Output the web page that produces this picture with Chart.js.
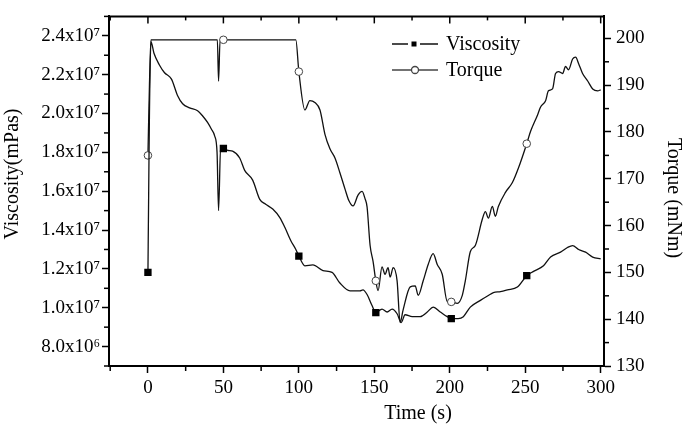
<!DOCTYPE html>
<html>
<head>
<meta charset="utf-8">
<script src="https://cdn.jsdelivr.net/npm/chart.js@4.4.1/dist/chart.umd.min.js"></script>
<style>
  html, body { margin: 0; padding: 0; background: #fff; }
  #wrap { width: 685px; height: 429px; position: relative; }
</style>
</head>
<body>
<div id="wrap"><canvas id="chart"></canvas></div>
<script>
// Viscosity (mPas, left axis) vs time (s)
const viscTime = [0, 0.5, 1, 2, 4, 7.6, 11, 15.6, 19.6, 23, 27.6, 32.9, 36, 39.5, 42, 44.2, 45.8, 46.8, 48.2,
  50, 53, 56.1, 60.8, 64.1, 69.4, 74.1, 78, 82.7, 87.4, 90.7, 94.7, 98, 100, 104, 109.3, 116, 122, 127.2,
  133.9, 140.5, 142.5, 145.2, 148.4, 151, 155.1, 158.5, 161.8, 165.1, 167.8, 170.4, 175.1, 180.4, 185.1,
  189, 193.7, 198.3, 201, 205.6, 209, 213.6, 220.3, 225.6, 228.9, 233.6, 238.2, 244.8, 251, 255.5, 262.1,
  266.8, 273.4, 278, 281.4, 285.4, 290, 294.7, 300];
const viscValues = [1.182, 1.60, 2.00, 2.37, 2.31, 2.25, 2.21, 2.177, 2.093, 2.05, 2.029, 2.014, 1.99, 1.954,
  1.92, 1.885, 1.80, 1.50, 1.835, 1.82, 1.81, 1.806, 1.771, 1.707, 1.657, 1.558, 1.533, 1.508, 1.464, 1.414,
  1.345, 1.30, 1.266, 1.216, 1.221, 1.191, 1.182, 1.127, 1.087, 1.087, 1.092, 1.068, 1.013, 0.975, 0.993,
  0.978, 0.993, 0.969, 0.924, 0.964, 0.954, 0.954, 0.978, 1.003, 0.978, 0.954, 0.944, 0.944, 0.954, 1.003,
  1.038, 1.063, 1.078, 1.083, 1.092, 1.107, 1.165, 1.187, 1.216, 1.261, 1.286, 1.310, 1.320, 1.300, 1.286,
  1.261, 1.251].map(v => v * 1e7);

// Torque (mNm, right axis) vs time (s)
const torqueTime = [0, 1, 2, 46, 46.8, 47.8, 50, 98, 100, 104, 107.3, 110.6, 114, 117.3, 120.6, 124, 127.2,
  130.6, 133.2, 135.9, 139.2, 141.9, 143.9, 145.2, 147.2, 149.2, 151, 152.5, 155.1, 157.1, 159.1, 160.5,
  162.5, 165.1, 167.1, 169.1, 173.8, 177.1, 179.1, 182.4, 185.7, 189, 191.7, 195, 198.3, 201, 205, 208.3,
  210.3, 213.6, 217, 221.6, 223.6, 225.6, 228.2, 230.2, 232.2, 236.9, 241.5, 245.5, 251, 253.5, 258.1,
  260.1, 263.5, 265.4, 268.1, 270.1, 272.1, 274.8, 276.7, 278.7, 281.4, 283.4, 285.4, 288, 291.4, 294.7,
  298, 300];
const torqueValues = [175, 190, 199.7, 199.7, 190.9, 199.7, 199.7, 199.7, 192.9, 184.7, 186.7, 186.3, 184.7,
  179.5, 176.4, 174.4, 171.3, 167.8, 165.3, 164.2, 166.5, 167.3, 165.7, 164.0, 155.8, 152.3, 148.2, 146.1,
  151.2, 149.6, 151.0, 149.0, 151.0, 148.2, 139.3, 142.0, 146.9, 147.1, 145.1, 148.2, 151.7, 154.0, 151.7,
  149.6, 143.8, 143.7, 143.4, 145.1, 148.2, 154.4, 155.8, 161.4, 163.0, 161.6, 164.1, 162.0, 164.1, 167.1,
  169.2, 172.3, 177.5, 180.1, 183.6, 185.3, 186.7, 188.8, 189.2, 192.5, 192.9, 192.5, 194.0, 193.3, 195.6,
  196.0, 194.6, 192.5, 190.9, 189.2, 188.8, 189.0];

// times carrying a symbol
const markerTimes = [0, 50, 100, 151, 201, 251];

const xTicks = [0, 50, 100, 150, 200, 250, 300];
const viscTicks = [8e6, 1e7, 1.2e7, 1.4e7, 1.6e7, 1.8e7, 2e7, 2.2e7, 2.4e7];
const torqueTicks = [130, 140, 150, 160, 170, 180, 190, 200];

const FONT = '"Liberation Serif", "Times New Roman", serif';
const SUP = { '6': '\u2076', '7': '\u2077' };

function sciLabel(v) {
  const e = Math.floor(Math.log10(v) + 1e-9);
  return (v / Math.pow(10, e)).toFixed(1) + 'x10' + SUP[String(e)];
}

const extras = {
  id: 'extras',
  afterDraw(chart) {
    const ctx = chart.ctx;
    const a = chart.chartArea;
    const x = chart.scales.x, y = chart.scales.y, y1 = chart.scales.y1;
    ctx.save();
    ctx.strokeStyle = '#000';
    ctx.fillStyle = '#000';

    // top frame with inward ticks
    ctx.lineWidth = 2;
    ctx.beginPath();
    ctx.moveTo(a.left - 1, a.top);
    ctx.lineTo(a.right + 1, a.top);
    ctx.stroke();
    ctx.lineWidth = 1.5;
    for (let t = -25; t <= 300; t += 25) {
      const px = x.getPixelForValue(t);
      if (px < a.left + 1 || px > a.right) continue;
      const len = t % 50 === 0 ? 7 : 4;
      ctx.beginPath();
      ctx.moveTo(px, a.top);
      ctx.lineTo(px, a.top + len);
      ctx.stroke();
    }

    // minor ticks
    for (let t = -25; t <= 300; t += 50) {
      const px = x.getPixelForValue(t);
      if (px < a.left - 1) continue;
      ctx.beginPath();
      ctx.moveTo(px, a.bottom);
      ctx.lineTo(px, a.bottom + 5);
      ctx.stroke();
    }
    for (let v = 7e6; v <= 2.5e7; v += 2e6) {
      const py = y.getPixelForValue(v);
      ctx.beginPath();
      ctx.moveTo(a.left, py);
      ctx.lineTo(a.left - 5, py);
      ctx.stroke();
    }
    for (let v = 135; v <= 200; v += 10) {
      const py = y1.getPixelForValue(v);
      ctx.beginPath();
      ctx.moveTo(a.right, py);
      ctx.lineTo(a.right + 5, py);
      ctx.stroke();
    }

    // axis titles
    ctx.font = '20px ' + FONT;
    ctx.textAlign = 'center';
    ctx.textBaseline = 'middle';
    ctx.fillText('Time (s)', 418, 414);
    ctx.save();
    ctx.translate(13, 174);
    ctx.rotate(-Math.PI / 2);
    ctx.fillText('Viscosity(mPas)', 0, 0);
    ctx.restore();
    ctx.save();
    ctx.translate(673, 198);
    ctx.rotate(Math.PI / 2);
    ctx.fillText('Torque (mNm)', 0, 0);
    ctx.restore();

    // legend
    ctx.lineWidth = 1.3;
    ctx.strokeStyle = '#111';
    ctx.beginPath();
    ctx.moveTo(392, 44); ctx.lineTo(408, 44);
    ctx.moveTo(420, 44); ctx.lineTo(438, 44);
    ctx.stroke();
    ctx.fillRect(411.5, 41.5, 5, 5);
    ctx.strokeStyle = '#444';
    ctx.beginPath();
    ctx.moveTo(392, 70); ctx.lineTo(438, 70);
    ctx.stroke();
    ctx.beginPath();
    ctx.arc(415, 70, 3.5, 0, Math.PI * 2);
    ctx.fillStyle = '#fff';
    ctx.fill();
    ctx.stroke();
    ctx.fillStyle = '#000';
    ctx.textAlign = 'left';
    ctx.fillText('Viscosity', 446, 45);
    ctx.fillText('Torque', 446, 71);
    ctx.restore();
  }
};

const markerRadius = r => c => (c.raw && markerTimes.includes(c.raw.x)) ? r : 0;

new Chart(document.getElementById('chart'), {
  type: 'line',
  data: {
    datasets: [
      {
        label: 'Viscosity',
        data: viscTime.map((t, i) => ({ x: t, y: viscValues[i] })),
        yAxisID: 'y',
        borderColor: '#111',
        borderWidth: 1.3,
        cubicInterpolationMode: 'monotone',
        pointStyle: 'rect',
        pointRadius: markerRadius(5.2),
        pointBackgroundColor: '#000',
        pointBorderColor: '#000',
        pointBorderWidth: 0,
        fill: false
      },
      {
        label: 'Torque',
        data: torqueTime.map((t, i) => ({ x: t, y: torqueValues[i] })),
        yAxisID: 'y1',
        borderColor: '#111',
        borderWidth: 1.3,
        cubicInterpolationMode: 'monotone',
        pointStyle: 'circle',
        pointRadius: markerRadius(3.8),
        pointBackgroundColor: '#fff',
        pointBorderColor: '#444',
        pointBorderWidth: 1,
        fill: false
      }
    ]
  },
  options: {
    responsive: true,
    maintainAspectRatio: false,
    animation: false,
    layout: { padding: { top: 3, left: 0, right: 0, bottom: 0 } },
    plugins: { legend: { display: false }, tooltip: { enabled: false } },
    scales: {
      x: {
        type: 'linear',
        min: -25.8,
        max: 302.2,
        afterFit: s => { s.height = 63; },
        afterBuildTicks: s => { s.ticks = xTicks.map(v => ({ value: v })); },
        ticks: { font: { family: FONT, size: 19 }, color: '#000', padding: 4, maxRotation: 0, autoSkip: false },
        grid: { drawOnChartArea: false, tickLength: 7, tickWidth: 1.5, tickColor: '#000' },
        border: { color: '#000', width: 2 }
      },
      y: {
        position: 'left',
        min: 7e6,
        max: 2.5e7,
        afterFit: s => { s.width = 109; },
        afterBuildTicks: s => { s.ticks = viscTicks.map(v => ({ value: v })); },
        ticks: { autoSkip: false, font: { family: FONT, size: 19 }, color: '#000', padding: 2,
          callback: v => sciLabel(v) },
        grid: { drawOnChartArea: false, tickLength: 7, tickWidth: 1.5, tickColor: '#000' },
        border: { color: '#000', width: 2 }
      },
      y1: {
        position: 'right',
        min: 130,
        max: 204.7,
        afterFit: s => { s.width = 81; },
        afterBuildTicks: s => { s.ticks = torqueTicks.map(v => ({ value: v })); },
        ticks: { autoSkip: false, font: { family: FONT, size: 19 }, color: '#000', padding: 5 },
        grid: { drawOnChartArea: false, tickLength: 7, tickWidth: 1.5, tickColor: '#000' },
        border: { color: '#000', width: 2 }
      }
    }
  },
  plugins: [extras]
});
</script>
</body>
</html>
